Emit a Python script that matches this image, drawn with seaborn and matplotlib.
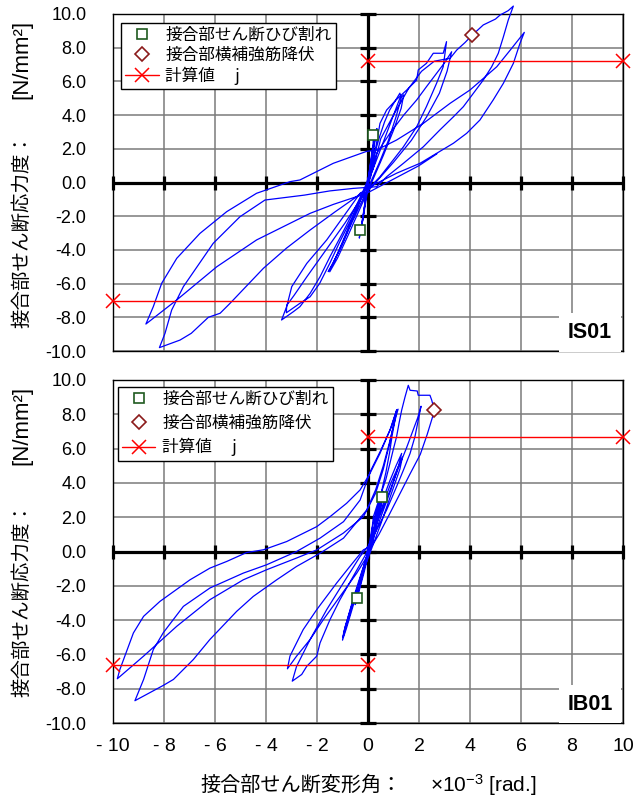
import matplotlib
matplotlib.use('Agg')
import matplotlib.pyplot as plt
import pandas as pd
import seaborn as sns
from matplotlib.lines import Line2D

sns.set_style('white')
plt.rcParams['font.family'] = ['Liberation Sans', 'Noto Sans CJK JP', 'DejaVu Sans']
plt.rcParams['mathtext.fontset'] = 'custom'
plt.rcParams['mathtext.rm'] = 'Liberation Sans'
plt.rcParams['mathtext.it'] = 'Liberation Sans:italic'
plt.rcParams['mathtext.bf'] = 'Liberation Sans:bold'
plt.rcParams['axes.unicode_minus'] = False
plt.rcParams['text.color'] = 'black'
plt.rcParams['xtick.color'] = 'black'
plt.rcParams['ytick.color'] = 'black'
plt.rcParams['xtick.labelcolor'] = 'black'
plt.rcParams['ytick.labelcolor'] = 'black'

# ---------------- axis ticks ----------------
ticks = [-10, -8, -6, -4, -2, 0, 2, 4, 6, 8, 10]
y_tick_labels = ['-10.0', '-8.0', '-6.0', '-4.0', '-2.0', '0.0', '2.0', '4.0', '6.0', '8.0', '10.0']
x_tick_labels = ['- 10', '- 8', '- 6', '- 4', '- 2', '0', '2', '4', '6', '8', '10']

legend_labels = ['接合部せん断ひび割れ', '接合部横補強筋降伏', '計算値　 j']
ylabel_jp = '接合部せん断応力度：'
ylabel_unit = '[N/mm²]'
xlabel_jp = '接合部せん断変形角：'
xlabel_unit = '×10$^{-3}$ [rad.]'

# ---------------- IS01 (top) ----------------
is_small_x = [0, 0.1, 0.2, 0.21, 0.3, 0.15, 0.0, -0.1, -0.2, -0.31, -0.34, -0.2, -0.05, 0.1, 0.22, 0.35, 0.2, 0.0, -0.15, -0.3, -0.2, 0.0]
is_small_y = [0, 1.2, 2.3, 2.82, 3.1, 1.6, 0.2, -1.0, -2.2, -2.82, -3.3, -2.2, -0.8, 0.8, 2.1, 3.2, 1.8, -0.1, -1.6, -3.0, -2.0, 0.0]
is_c1_x = [0.2, 0.45, 0.65, 0.85, 1.05, 1.25, 1.3, 1.1, 0.8, 0.45, 0.1, -0.3, -0.7, -1.05, -1.35, -1.56, -1.4, -1.0, -0.55, -0.1,
           0.3, 0.7, 1.0, 1.25, 1.4, 1.3, 1.0, 0.6, 0.2, -0.3, -0.8, -1.2, -1.5, -1.3, -0.8, -0.3, 0.1]
is_c1_y = [1.4, 2.7, 3.6, 4.3, 4.8, 5.3, 5.0, 3.9, 2.5, 1.2, 0.0, -1.3, -2.6, -3.8, -4.7, -5.29, -4.9, -3.6, -2.0, -0.3,
           1.2, 2.8, 4.0, 5.0, 5.2, 4.4, 3.1, 1.6, 0.2, -1.5, -3.2, -4.5, -5.3, -4.6, -2.8, -1.0, 0.3]
is_c2_x = [0.47, 0.73, 1.1, 1.52, 1.91, 1.97, 2.29, 2.56, 2.95, 3.08, 2.95, 2.69, 2.29, 1.91, 1.39, 0.99, 0.47, 0.0, -0.31, -0.97,
           -1.62, -2.4, -2.99, -3.19, -3.39, -2.93, -2.67, -2.27, -1.88, -1.49, -1.0, -0.5, -0.1]
is_c2_y = [3.51, 4.3, 4.9, 5.49, 6.08, 6.68, 7.07, 7.67, 7.67, 8.36, 6.87, 5.89, 4.5, 3.31, 2.12, 1.34, 0.34, -0.4, -0.64, -2.03,
           -3.41, -4.8, -6.18, -7.37, -8.16, -7.67, -7.37, -6.58, -5.59, -4.4, -3.0, -1.5, -0.2]
is_c3_x = [0.34, 0.86, 1.4, 1.91, 2.3, 2.69, 3.0, 3.28, 3.1, 2.8, 2.3, 1.7, 1.0, 0.3, -0.3, -0.9, -1.6, -2.4, -2.9, -3.19,
           -3.2, -2.67, -2.27, -1.9, -1.5, -1.1, -0.6, -0.1, 0.2]
is_c3_y = [1.73, 2.92, 4.0, 4.9, 5.7, 6.48, 7.1, 7.76, 6.6, 5.3, 3.9, 2.5, 1.2, 0.0, -1.0, -2.4, -3.9, -5.6, -6.7, -7.3,
           -7.73, -7.17, -6.78, -6.0, -4.8, -3.5, -2.0, -0.4, 0.8]
is_big1_x = [0.5, 1.0, 1.6, 2.1, 2.6, 3.22, 3.48, 3.8, 4.09, 4.52, 5.0, 5.18, 5.5, 5.7, 5.5, 5.31, 5.11, 4.85, 4.52, 4.13,
             3.74, 3.35, 2.82, 2.17, 1.39, 0.73, 0.34, -0.58, -1.5, -2.5, -3.3, -4.04, -5.02, -6.07, -7.24, -7.7, -7.96, -8.18]
is_big1_y = [2.6, 4.0, 5.6, 6.6, 7.2, 7.37, 7.86, 8.3, 8.75, 9.35, 9.7, 9.94, 10.2, 10.47, 9.64, 8.65, 7.67, 6.87, 6.08, 5.29,
             4.5, 3.9, 3.12, 2.12, 1.14, 0.34, -0.25, -0.35, -0.5, -0.75, -0.9, -1.04, -2.03, -3.61, -6.18, -7.57, -8.95, -9.8]
is_big2_x = [-7.37, -6.93, -6.26, -5.8, -5.41, -4.8, -4.1, -3.2, -2.27, -1.3, -0.5, 0.0, 0.47, 1.12, 2.04, 2.69, 3.35, 3.87,
             4.39, 4.91, 5.31, 5.7, 5.96, 6.13]
is_big2_y = [-9.35, -8.95, -8.0, -7.76, -7.17, -6.2, -5.09, -3.9, -2.82, -1.75, -0.9, -0.3, 0.05, 0.55, 1.14, 1.73, 2.33, 2.92,
             3.71, 4.9, 5.89, 7.07, 8.26, 8.91]
is_big3_x = [5.6, 5.05, 4.0, 3.22, 2.17, 1.12, 0.34, -0.05, -1.36, -2.67, -3.06, -4.37, -5.54, -6.59, -7.5, -8.09, -8.42, -8.71,
             -7.5, -5.93, -4.37, -3.45, -2.27, -1.36, -0.05, 1.0, 2.0, 2.7]
is_big3_y = [7.9, 6.87, 5.49, 4.7, 3.51, 2.52, 1.93, 1.85, 1.14, 0.15, 0.05, -0.64, -1.73, -3.02, -4.5, -5.98, -7.37, -8.4,
             -6.97, -5.0, -3.41, -2.72, -1.83, -1.3, -0.64, 0.2, 1.0, 1.7]
is_crack_x = [0.21, -0.31]
is_crack_y = [2.82, -2.82]
is_yield_x = [4.09]
is_yield_y = [8.75]
is_calc_pos_x = [0, 10]
is_calc_pos_y = [7.2, 7.2]
is_calc_neg_x = [-10, 0]
is_calc_neg_y = [-7.05, -7.05]

# ---------------- IB01 (bottom) ----------------
ib_small_x = [0, 0.15, 0.35, 0.54, 0.6, 0.4, 0.1, -0.15, -0.35, -0.42, -0.5, -0.3, -0.05, 0.25, 0.5, 0.62, 0.4, 0.05, -0.25, -0.5, -0.35, 0.0]
ib_small_y = [0, 1.3, 2.5, 3.2, 3.5, 2.2, 0.4, -1.2, -2.3, -2.73, -3.1, -1.9, -0.3, 1.5, 3.0, 3.5, 2.0, 0.1, -1.6, -3.0, -2.0, 0.0]
ib_c1_x = [0.25, 0.55, 0.85, 1.1, 1.32, 1.2, 0.9, 0.5, 0.1, -0.25, -0.55, -0.8, -0.95, -1.0, -0.85, -0.55, -0.2, 0.15, 0.5, 0.9,
           1.2, 1.35, 1.25, 0.9, 0.5, 0.1, -0.3, -0.65, -0.9, -0.98, -0.8, -0.45, -0.1, 0.1]
ib_c1_y = [1.4, 2.9, 4.1, 5.0, 5.72, 5.0, 3.6, 2.0, 0.3, -1.2, -2.6, -3.9, -4.7, -5.17, -4.5, -3.0, -1.2, 0.6, 2.4, 4.0,
           5.0, 5.5, 4.8, 3.3, 1.6, 0.0, -1.6, -3.2, -4.4, -5.0, -4.1, -2.3, -0.5, 0.5]
ib_c2_x = [0.21, 0.47, 0.7, 0.86, 1.0, 1.12, 1.22, 1.32, 1.45, 1.58, 1.65, 1.93, 1.97, 2.43, 2.5, 2.6, 2.52, 2.32, 2.05, 1.64,
           1.24, 0.84, 0.43, 0.16, -0.18, -0.71, -1.23, -2.01, -2.54, -3.06, -3.16, -2.8, -2.27, -1.75, -1.1, -0.44, 0.0, 0.2]
ib_c2_y = [2.03, 3.2, 4.2, 5.14, 6.0, 6.69, 7.5, 8.24, 9.0, 9.69, 9.4, 9.36, 9.11, 9.11, 8.82, 8.24, 7.79, 6.82, 5.66, 4.5,
           3.33, 2.17, 1.0, 0.33, 0.1, -0.87, -1.84, -3.39, -4.55, -6.1, -6.84, -6.1, -5.13, -3.97, -2.62, -1.26, -0.2, 0.6]
ib_c3_x = [0.3, 0.6, 0.9, 1.2, 1.5, 1.75, 1.95, 2.08, 1.97, 1.84, 1.65, 1.39, 1.12, 0.73, 0.34, 0.0, -0.31, -0.97, -1.62, -2.27,
           -2.8, -2.97, -2.6, -2.4, -2.01, -1.88, -1.49, -1.1, -0.58, -0.1, 0.2]
ib_c3_y = [1.5, 2.6, 3.7, 4.9, 6.0, 7.0, 7.8, 8.47, 7.66, 6.69, 5.72, 4.75, 3.78, 2.42, 1.26, 0.3, -0.29, -1.84, -3.39, -5.13,
           -6.69, -7.56, -7.17, -6.69, -6.1, -5.33, -3.97, -2.81, -1.45, -0.2, 0.8]
ib_big1_x = [0.3, 0.5, 0.7, 0.85, 0.95, 1.05, 1.12, 0.86, 0.47, 0.08, -0.31, -0.84, -1.49, -2.01, -3.19, -4.1, -4.76, -5.54,
             -6.2, -6.98, -8.16, -8.8, -9.2, -9.73, -9.83, -8.8, -7.5, -6.2, -4.89, -3.97, -2.8, -2.0, -0.97, -0.18, 0.3,
             0.6, 0.85, 1.0, 1.13]
ib_big1_y = [2.0, 3.3, 4.6, 5.8, 6.8, 7.6, 8.24, 7.08, 5.72, 4.56, 3.59, 2.81, 2.03, 1.45, 0.58, 0.1, -0.06, -0.58,
             -0.97, -1.65, -2.91, -3.78, -4.75, -6.88, -7.42, -6.1, -4.36, -2.81, -1.65, -1.06, -0.38, 0.1, 1.07, 2.03, 3.4,
             4.8, 6.3, 7.4, 8.27]
ib_big2_x = [0.9, 0.5, 0.1, -0.31, -0.96, -1.88, -2.8, -3.97, -4.89, -6.2, -7.24, -8.03, -8.42, -8.8, -9.14, -8.68, -8.03,
             -7.63, -6.85, -6.2, -5.15, -4.5, -3.58, -2.8, -1.88, -0.96, -0.05, 0.3, 0.6, 0.85, 1.05, 1.18]
ib_big2_y = [7.2, 5.9, 4.7, 3.0, 1.74, 0.78, 0.0, -0.77, -1.26, -2.13, -3.2, -4.74, -5.72, -7.46, -8.7, -8.33, -7.81,
             -7.46, -6.3, -5.13, -3.49, -2.62, -1.65, -0.87, -0.1, 0.78, 2.42, 3.6, 5.0, 6.4, 7.6, 8.3]
ib_crack_x = [0.54, -0.42]
ib_crack_y = [3.2, -2.73]
ib_yield_x = [2.6]
ib_yield_y = [8.24]
ib_calc_pos_x = [0, 10]
ib_calc_pos_y = [6.69, 6.69]
ib_calc_neg_x = [-10, 0]
ib_calc_neg_y = [-6.59, -6.59]

is_x = is_small_x + is_c1_x + is_c2_x + is_c3_x + is_big1_x + is_big2_x + is_big3_x
is_y = is_small_y + is_c1_y + is_c2_y + is_c3_y + is_big1_y + is_big2_y + is_big3_y
ib_x = ib_small_x + ib_c1_x + ib_c2_x + ib_c3_x + ib_big1_x + ib_big2_x
ib_y = ib_small_y + ib_c1_y + ib_c2_y + ib_c3_y + ib_big1_y + ib_big2_y

BLUE = '#0000ff'
RED = '#ff0000'
GREEN = '#1f5a1f'
DRED = '#8b1a1a'
JP = ['Noto Sans CJK JP', 'DejaVu Sans']

fig = plt.figure(figsize=(6.4, 8.02), dpi=100)
ax_top = fig.add_axes([113 / 640, 1 - 351 / 802, 510 / 640, 337 / 802])
ax_bot = fig.add_axes([113 / 640, 1 - 723 / 802, 510 / 640, 343 / 802])


def panel(ax, cx, cy, crx, cry, ylx, yly, cpx, cpy, cnx, cny, name, anchor, lspace, show_x):
    ax.set_xlim(-10, 10)
    ax.set_ylim(-10, 10)
    ax.set_xticks(ticks)
    ax.set_yticks(ticks)
    ax.grid(True, color='#7a7a7a', lw=1.1)
    ax.set_axisbelow(True)
    for s in ax.spines.values():
        s.set_color('black')
        s.set_linewidth(1.0)
    ax.axhline(0, color='black', lw=2.3, zorder=2)
    ax.axvline(0, color='black', lw=2.3, zorder=2)
    ax.plot(ticks, [0] * len(ticks), ls='none', marker='|', ms=10, mew=2.3, color='black', clip_on=False, zorder=2)
    ax.plot([0] * len(ticks), ticks, ls='none', marker='_', ms=11, mew=2.3, color='black', clip_on=False, zorder=2)

    df = pd.DataFrame({'x': cx, 'y': cy})
    sns.lineplot(data=df, x='x', y='y', sort=False, estimator=None, color=BLUE, lw=0.9,
                 ax=ax, clip_on=False, zorder=3)
    ax.plot(cpx, cpy, color=RED, lw=1.0, marker='x', ms=10, mew=1.1, clip_on=False, zorder=4)
    ax.plot(cnx, cny, color=RED, lw=1.0, marker='x', ms=10, mew=1.1, clip_on=False, zorder=4)
    ax.plot(crx, cry, ls='none', marker='s', ms=7.5, mfc='white', mec=GREEN, mew=1.2, zorder=5)
    ax.plot(ylx, yly, ls='none', marker='D', ms=7.5, mfc='white', mec=DRED, mew=1.2, zorder=5)

    ax.set_xlabel('')
    ax.set_ylabel('')
    ax.tick_params(length=0, labelsize=13, pad=19, axis='y', labelcolor='black')
    ax.tick_params(length=0, labelsize=14, pad=11, axis='x', labelcolor='black')
    ax.set_yticklabels(y_tick_labels)
    if show_x:
        ax.set_xticklabels(x_tick_labels)
    else:
        ax.set_xticklabels([])

    handles = [
        Line2D([], [], ls='none', marker='s', ms=7.5, mfc='white', mec=GREEN, mew=1.2),
        Line2D([], [], ls='none', marker='D', ms=7, mfc='white', mec=DRED, mew=1.2),
        Line2D([], [], color=RED, lw=1.0, marker='x', ms=10, mew=1.1),
    ]
    leg = ax.legend(handles, legend_labels, loc='upper left', bbox_to_anchor=anchor, borderaxespad=0,
                    frameon=True, fancybox=False, edgecolor='black', framealpha=1,
                    prop={'family': JP, 'size': 12}, handlelength=2.0, handletextpad=0.4,
                    labelspacing=lspace, borderpad=0.25)
    leg.get_frame().set_linewidth(1.0)
    for t in leg.get_texts():
        t.set_color('black')
    leg.set_zorder(7)

    ax.text(0.935, 0.055, name, transform=ax.transAxes, ha='center', va='center', fontsize=15.5,
            fontweight='bold', zorder=6, color='black',
            bbox=dict(boxstyle='square,pad=0.4', fc='white', ec='none'))


panel(ax_top, is_x, is_y, is_crack_x, is_crack_y, is_yield_x, is_yield_y,
      is_calc_pos_x, is_calc_pos_y, is_calc_neg_x, is_calc_neg_y, 'IS01', (0.0157, 0.973), 0.15, False)
panel(ax_bot, ib_x, ib_y, ib_crack_x, ib_crack_y, ib_yield_x, ib_yield_y,
      ib_calc_pos_x, ib_calc_pos_y, ib_calc_neg_x, ib_calc_neg_y, 'IB01', (0.0098, 0.981), 0.4, True)

# y labels (rotated)
fig.text(0.034, 0.713, ylabel_jp, rotation=90, ha='center', va='center', fontsize=14, family=JP, color='black')
fig.text(0.034, 0.926, ylabel_unit, rotation=90, ha='center', va='center', fontsize=16, color='black')
fig.text(0.034, 0.252, ylabel_jp, rotation=90, ha='center', va='center', fontsize=14, family=JP, color='black')
fig.text(0.034, 0.469, ylabel_unit, rotation=90, ha='center', va='center', fontsize=16, color='black')
# x label
fig.text(0.470, 0.021, xlabel_jp, ha='center', va='center', fontsize=14.5, family=JP, color='black')
fig.text(0.672, 0.021, xlabel_unit, ha='left', va='center', fontsize=15, color='black')

fig.savefig('out.png', dpi=100)
